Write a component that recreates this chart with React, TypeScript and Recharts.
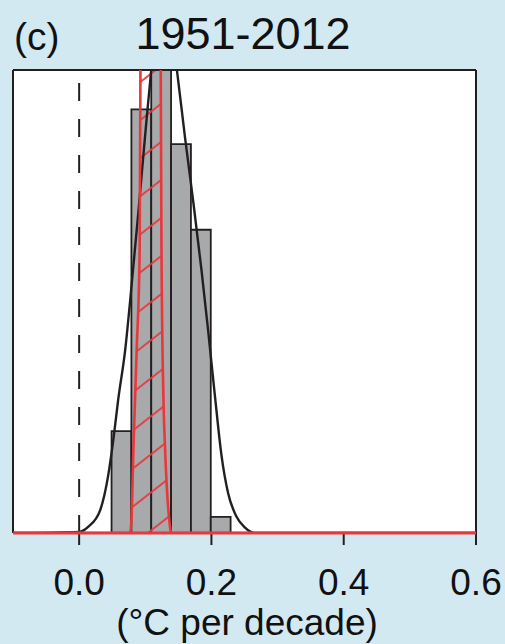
import {
  Area,
  CartesianGrid,
  ComposedChart,
  Line,
  ReferenceArea,
  ReferenceLine,
  XAxis,
  YAxis,
} from 'recharts'

// histogram bins (trend, °C per decade) and their heights
const binEdges = [0.049, 0.079, 0.109, 0.139, 0.169, 0.199, 0.229]
const binHeights = [0.88, 3.66, 4.6, 3.36, 2.62, 0.14]

// black fitted curve
const fitX = [-0.1, 0.0, 0.014, 0.032, 0.044, 0.052, 0.059, 0.07, 0.077, 0.09, 0.1, 0.109, 0.118, 0.127, 0.137, 0.148, 0.16, 0.173, 0.185, 0.195, 0.205, 0.215, 0.225, 0.238, 0.25, 0.265, 0.6]
const fitY = [0, 0.01, 0.055, 0.2, 0.5, 0.82, 1.15, 1.6, 2.0, 2.8, 3.45, 4.0, 4.45, 4.65, 4.45, 3.99, 3.42, 2.84, 2.27, 1.75, 1.2, 0.68, 0.35, 0.14, 0.05, 0, 0]

// red observed distribution (hatched)
const obsX = [-0.1, 0.077, 0.079, 0.082, 0.087, 0.0915, 0.094, 0.108, 0.122, 0.1245, 0.1275, 0.13, 0.1375, 0.139, 0.6]
const obsY = [0, 0, 0.1, 0.72, 1.58, 2.44, 6, 14, 6, 2.44, 1.15, 0.72, 0.05, 0, 0]

const xTicks = [0, 0.2, 0.4, 0.6]
const yTicks = [1, 2, 3]

const fitData = fitX.map((x, i) => ({ x, y: fitY[i] }))
const obsData = obsX.map((x, i) => ({ x, y: obsY[i] }))

const FONT = 'Liberation Sans, Arial, Helvetica, sans-serif'
const INK = '#231f20'
const RED = '#e8383c'
const axisStyle = { stroke: INK, strokeWidth: 2 }

export default function App() {
  return (
    <div style={{ position: 'absolute', left: 0, top: 0, width: 505, height: 644, background: '#d3e9f1' }}>
      <ComposedChart
        width={505}
        height={644}
        margin={{ top: 40, right: 29, bottom: 81, left: 13 }}
      >
        <defs>
          <pattern id="hatch" patternUnits="userSpaceOnUse" width={10} height={30} patternTransform="rotate(-38)">
            <line x1={0} y1={1} x2={10} y2={1} stroke={RED} strokeWidth={1.8} />
          </pattern>
        </defs>
        <CartesianGrid fill="#fff" horizontal={false} vertical={false} />
        <XAxis
          dataKey="x"
          type="number"
          domain={[-0.1, 0.6]}
          ticks={xTicks}
          allowDataOverflow
          height={30}
          tickSize={12}
          tickMargin={24}
          axisLine={axisStyle}
          tickLine={axisStyle}
          tickFormatter={(v: number) => v.toFixed(1)}
          tick={{ fontSize: 37, fill: '#111', fontFamily: FONT }}
        />
        <XAxis
          xAxisId="top"
          orientation="top"
          type="number"
          domain={[-0.1, 0.6]}
          ticks={xTicks}
          height={30}
          tickSize={12}
          axisLine={axisStyle}
          tickLine={axisStyle}
          tick={false}
        />
        <YAxis
          type="number"
          domain={[0, 4]}
          ticks={yTicks}
          allowDataOverflow
          mirror
          width={1}
          tickSize={10}
          axisLine={axisStyle}
          tickLine={axisStyle}
          tick={false}
        />
        <YAxis
          yAxisId="right"
          orientation="right"
          type="number"
          domain={[0, 4]}
          ticks={yTicks}
          mirror
          width={1}
          tickSize={10}
          axisLine={axisStyle}
          tickLine={axisStyle}
          tick={false}
        />
        {binHeights.map((h, i) => (
          <ReferenceArea
            key={i}
            x1={binEdges[i]}
            x2={binEdges[i + 1]}
            y1={0}
            y2={h}
            ifOverflow="hidden"
            fill="#a7a9ab"
            fillOpacity={1}
            stroke={INK}
            strokeWidth={1.8}
          />
        ))}
        <ReferenceLine x={0} stroke={INK} strokeWidth={2} strokeDasharray="18 18" />
        <Area
          data={obsData}
          dataKey="y"
          type="monotone"
          stroke="none"
          fill="url(#hatch)"
          fillOpacity={1}
          isAnimationActive={false}
        />
        <Line
          data={fitData}
          dataKey="y"
          type="monotone"
          stroke={INK}
          strokeWidth={2.4}
          dot={false}
          isAnimationActive={false}
        />
        <Line
          data={obsData}
          dataKey="y"
          type="monotone"
          stroke={RED}
          strokeWidth={2.6}
          dot={false}
          isAnimationActive={false}
          zIndex={600}
        />
        <ReferenceLine y={0} stroke={RED} strokeWidth={3} zIndex={700} />
      </ComposedChart>
      <svg width={505} height={644} style={{ position: 'absolute', left: 0, top: 0, pointerEvents: 'none' }}>
        <text x={14} y={50} fontSize={39} fontFamily={FONT} fill="#111">(c)</text>
        <text x={243} y={49} fontSize={45} fontFamily={FONT} fill="#111" textAnchor="middle">1951-2012</text>
        <text x={247} y={635} fontSize={37} fontFamily={FONT} fill="#111" textAnchor="middle">(°C per decade)</text>
      </svg>
    </div>
  )
}
